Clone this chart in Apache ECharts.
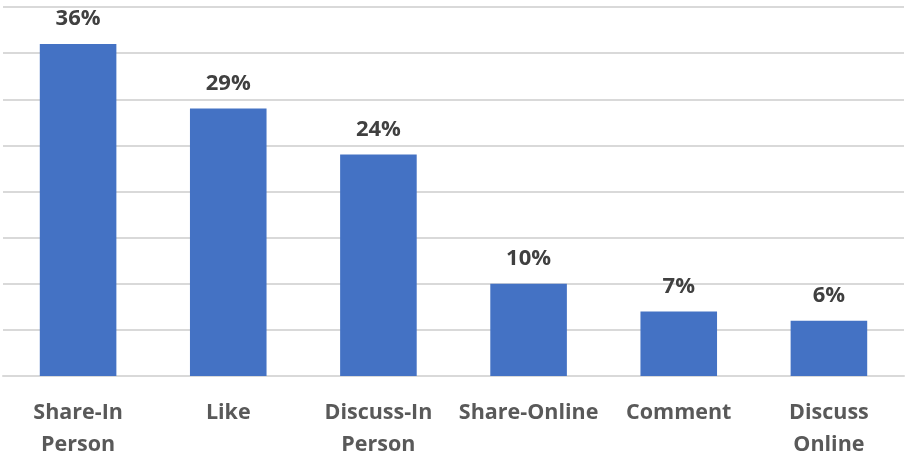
<!DOCTYPE html>
<html>
<head>
<meta charset="utf-8">
<script src="https://cdn.jsdelivr.net/npm/echarts@6/dist/echarts.min.js"></script>
<style>
  html, body { margin: 0; padding: 0; background: #fff; }
  #chart { width: 905px; height: 461px; }
</style>
</head>
<body>
<div id="chart"></div>
<script>
// Engagement actions and their share of respondents (%)
const categories = ['Share-In\nPerson', 'Like', 'Discuss-In\nPerson', 'Share-Online', 'Comment', 'Discuss\nOnline'];
const values = [36, 29, 24, 10, 7, 6];
const axisMax = 40;
const axisStep = 5;

const chart = echarts.init(document.getElementById('chart'));
chart.setOption({
  animation: false,
  grid: { left: 3, right: 1, top: 7, bottom: 81, containLabel: false },
  xAxis: {
    type: 'category',
    data: categories,
    axisLine: { show: true, lineStyle: { color: '#d9d9d9', width: 2 } },
    axisTick: { show: false },
    axisLabel: {
      color: '#595959',
      fontFamily: 'Open Sans',
      fontWeight: 'bold',
      fontSize: 21.5,
      lineHeight: 32,
      margin: 21,
      interval: 0
    }
  },
  yAxis: {
    type: 'value',
    min: 0,
    max: axisMax,
    interval: axisStep,
    axisLabel: { show: false },
    axisLine: { show: false },
    axisTick: { show: false },
    splitLine: { lineStyle: { color: '#d9d9d9', width: 2 } }
  },
  series: [{
    type: 'bar',
    data: values,
    barWidth: '51%',
    itemStyle: { color: '#4472C4' },
    label: {
      show: true,
      position: 'top',
      distance: 14,
      formatter: p => p.value + '%',
      color: '#404040',
      fontFamily: 'Open Sans',
      fontWeight: 'bold',
      fontSize: 22
    }
  }]
});
</script>
</body>
</html>
